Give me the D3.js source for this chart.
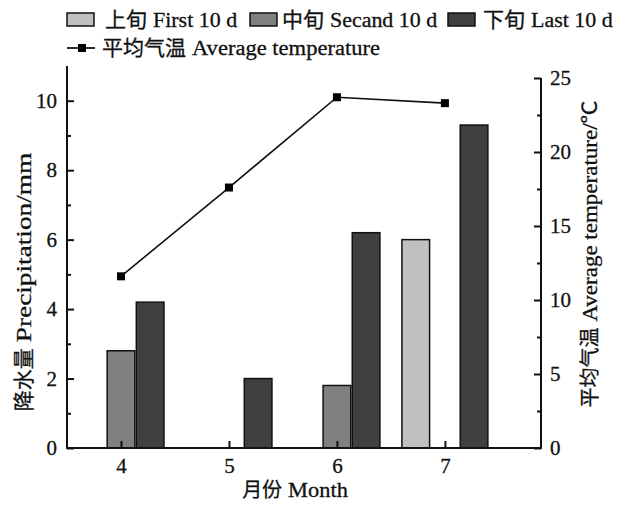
<!DOCTYPE html>
<html>
<head>
<meta charset="utf-8">
<script src="https://cdn.jsdelivr.net/npm/d3@7"></script>
<style>
  body { margin: 0; background: #fff; }
  svg text { font-family: "Liberation Serif", "Noto Sans CJK SC", serif; fill: #111; stroke: #111; stroke-width: 0.3px; }
</style>
</head>
<body>
<svg></svg>
<script>
let width = 627, height = 505;

// data
let months = [4, 5, 6, 7];
let firstTen = [0, 0, 0, 6.0];
let secondTen = [2.8, 0, 1.8, 0];
let lastTen = [4.2, 2.0, 6.2, 9.3];
let avgTemp = [11.6, 17.6, 23.7, 23.3];
let seriesCn = ["上旬", "中旬", "下旬"];
let seriesEn = ["First 10 d", "Secand 10 d", "Last 10 d"];
let seriesColors = ["#c0c0c0", "#808080", "#404040"];
let lineCn = "平均气温", lineEn = "Average temperature";
let precipTicks = [0, 2, 4, 6, 8, 10];
let tempTicks = [0, 5, 10, 15, 20, 25];

let svg = d3.select("svg")
    .attr("width", width)
    .attr("height", height);

let plotLeft = 67, plotRight = 541, plotBottom = 448, plotTop = 66;

let x = d3.scaleLinear().domain([3.5, 7.89]).range([plotLeft, plotRight]);
let yL = d3.scaleLinear().domain([0, 11]).range([plotBottom, plotTop]);
let yR = d3.scaleLinear().domain([0, 25]).range([plotBottom, 78]);

// Chinese part + stretched Times part, like the scanned figure
function mixText(cn, en, opts) {
    let t = svg.append("text");
    if (cn) t.append("tspan").style("font-family", "Noto Sans CJK SC")
        .style("font-size", opts.cnSize + "px").text(cn);
    let lt = t.append("tspan").style("font-size", opts.size + "px")
        .attr("dx", cn ? opts.gap : 0).text(en);
    let w = lt.node().getComputedTextLength();
    lt.attr("textLength", w * opts.stretch).attr("lengthAdjust", "spacingAndGlyphs");
    let bw = t.node().getBBox().width;
    if (opts.rotate) {
        t.attr("transform", `translate(${opts.x},${opts.y}) rotate(-90)`)
         .attr("x", -bw / 2).attr("y", 0);
    } else if (opts.center) {
        t.attr("x", opts.x - bw / 2).attr("y", opts.y);
    } else {
        t.attr("x", opts.x).attr("y", opts.y);
    }
    return t;
}

let barW = 0.27;
let series = [firstTen, secondTen, lastTen];

// bars
series.forEach((vals, i) => {
    svg.append("g")
        .selectAll("rect")
        .data(months.map((m, j) => ({m: m, v: vals[j]})).filter(d => d.v > 0))
        .enter()
        .append("rect")
        .attr("x", d => x(d.m + (i - 1) * barW - barW / 2) + 0.75)
        .attr("width", d => x(d.m + barW / 2) - x(d.m - barW / 2) - 1.5)
        .attr("y", d => yL(d.v))
        .attr("height", d => yL(0) - yL(d.v))
        .attr("fill", seriesColors[i])
        .attr("stroke", "#111")
        .attr("stroke-width", 1.5);
});

// axes
let axisL = svg.append("g").attr("transform", `translate(${plotLeft},0)`)
    .call(d3.axisRight(yL).tickValues(precipTicks).tickSize(7).tickFormat(d3.format("d")));
axisL.selectAll("text").attr("x", -10).attr("text-anchor", "end");
svg.append("g").attr("class", "minor").attr("transform", `translate(${plotLeft},0)`)
    .call(d3.axisRight(yL).tickValues([1, 3, 5, 7, 9]).tickSize(4).tickFormat(""));

let axisR = svg.append("g").attr("transform", `translate(${plotRight},0)`)
    .call(d3.axisLeft(yR).tickValues(tempTicks).tickSize(7));
axisR.selectAll("text").attr("x", 9).attr("text-anchor", "start");
svg.append("g").attr("class", "minor").attr("transform", `translate(${plotRight},0)`)
    .call(d3.axisLeft(yR).tickValues([2.5, 7.5, 12.5, 17.5, 22.5]).tickSize(4).tickFormat(""));

let axisB = svg.append("g").attr("transform", `translate(0,${plotBottom})`)
    .call(d3.axisTop(x).tickValues(months).tickSize(7).tickFormat(d3.format("d")));
axisB.selectAll("text").attr("y", 25).attr("dy", "0");

svg.selectAll(".minor .domain").remove();
svg.selectAll(".domain").attr("stroke", "#111").attr("stroke-width", 2).attr("fill", "none");
svg.selectAll(".tick line").attr("stroke", "#111").attr("stroke-width", 2);
svg.selectAll(".tick text").style("font-size", "21px").attr("fill", "#111");
axisL.select(".domain").attr("d", `M0,${plotTop}V${plotBottom + 1}`);
axisR.select(".domain").attr("d", `M0,${yR(25)}V${plotBottom + 1}`);
axisB.select(".domain").attr("d", `M${plotLeft},0H${plotRight + 1}`);

// temperature line
let line = d3.line().x((d, i) => x(months[i])).y(d => yR(d));
svg.append("path")
    .datum(avgTemp)
    .attr("d", line)
    .attr("fill", "none")
    .attr("stroke", "#111")
    .attr("stroke-width", 1.6);
svg.append("g").selectAll("rect")
    .data(avgTemp)
    .enter()
    .append("rect")
    .attr("x", (d, i) => x(months[i]) - 4)
    .attr("y", d => yR(d) - 4)
    .attr("width", 8).attr("height", 8)
    .attr("fill", "#000");

// axis titles
mixText("降水量", "Precipitation/mm", {x: 31, y: 282, size: 21, cnSize: 21, gap: 6, stretch: 1.3, rotate: true});
mixText("平均气温", "Average temperature/℃", {x: 597, y: 254, size: 20, cnSize: 20, gap: 6, stretch: 1.15, rotate: true});
mixText("月份", "Month", {x: 295, y: 497, size: 20, cnSize: 20, gap: 6, stretch: 1.12, center: true});

// legend
let legX = [67, 250, 448], textX = [105, 282, 483];
seriesCn.forEach((cn, i) => {
    svg.append("rect")
        .attr("x", legX[i]).attr("y", 13)
        .attr("width", 27).attr("height", 13)
        .attr("fill", seriesColors[i])
        .attr("stroke", "#111")
        .attr("stroke-width", 1.5);
    mixText(cn, seriesEn[i], {x: textX[i], y: 27, size: 20.5, cnSize: 21, gap: 6, stretch: 1.07});
});
svg.append("line")
    .attr("x1", 67).attr("x2", 95).attr("y1", 48).attr("y2", 48)
    .attr("stroke", "#111").attr("stroke-width", 1.8);
svg.append("rect")
    .attr("x", 78).attr("y", 44).attr("width", 8).attr("height", 8)
    .attr("fill", "#000");
mixText(lineCn, lineEn, {x: 102, y: 55, size: 20.5, cnSize: 21, gap: 6, stretch: 1.1});
</script>
</body>
</html>
